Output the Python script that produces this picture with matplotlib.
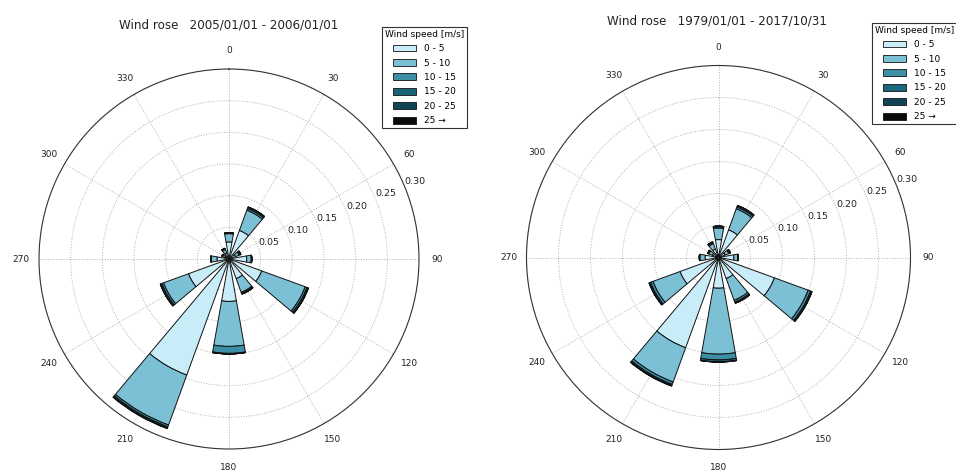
import numpy as np
import matplotlib
matplotlib.use('Agg')
import matplotlib.pyplot as plt
from matplotlib.patches import Patch

# direction sectors (deg, from north, clockwise)
directions = [0, 30, 60, 90, 120, 150, 180, 210, 240, 270, 300, 330]
speed_bins = ['0 - 5', '5 - 10', '10 - 15', '15 - 20', '20 - 25', '25 \u2192']
colors = ['#c9edf8', '#7cc0d5', '#3c8fa5', '#1b657a', '#0f4556', '#0b0b0b']

# frequency per speed bin, 2005/01/01 - 2006/01/01
a_0_5 = [0.027, 0.048, 0.011, 0.028, 0.055, 0.033, 0.067, 0.195, 0.068, 0.019, 0.007, 0.010]
a_5_10 = [0.013, 0.034, 0.006, 0.007, 0.073, 0.023, 0.071, 0.084, 0.042, 0.009, 0.004, 0.006]
a_10_15 = [0.001, 0.003, 0.002, 0.001, 0.003, 0.002, 0.011, 0.003, 0.003, 0.001, 0.001, 0.002]
a_15_20 = [0.0005, 0.002, 0.001, 0.0, 0.002, 0.001, 0.001, 0.002, 0.002, 0.0, 0.0, 0.0]
a_20_25 = [0.0, 0.0005, 0.0, 0.0, 0.0005, 0.0, 0.0, 0.0005, 0.0005, 0.0, 0.0, 0.0]
a_25 = [0.0, 0.0, 0.0, 0.0, 0.0, 0.0, 0.0, 0.0005, 0.0, 0.0, 0.0, 0.0]

# frequency per speed bin, 1979/01/01 - 2017/10/31
b_0_5 = [0.028, 0.046, 0.011, 0.024, 0.093, 0.035, 0.048, 0.150, 0.064, 0.021, 0.010, 0.014]
b_5_10 = [0.018, 0.035, 0.006, 0.006, 0.056, 0.036, 0.103, 0.057, 0.045, 0.008, 0.006, 0.009]
b_10_15 = [0.002, 0.003, 0.002, 0.001, 0.004, 0.003, 0.009, 0.004, 0.004, 0.001, 0.002, 0.002]
b_15_20 = [0.001, 0.002, 0.001, 0.0, 0.002, 0.002, 0.003, 0.002, 0.002, 0.0, 0.0, 0.001]
b_20_25 = [0.0, 0.0005, 0.0, 0.0, 0.0005, 0.0, 0.0005, 0.0005, 0.0005, 0.0, 0.0, 0.0]
b_25 = [0.0, 0.0, 0.0, 0.0, 0.0, 0.0, 0.0, 0.0005, 0.0, 0.0, 0.0, 0.0]

title_a = 'Wind rose   2005/01/01 - 2006/01/01'
title_b = 'Wind rose   1979/01/01 - 2017/10/31'
r_ticks = [0.05, 0.10, 0.15, 0.20, 0.25, 0.30]

fig = plt.figure(figsize=(9.56, 4.71), dpi=100)


def windrose(rect, series, title, title_xy, leg_xy):
    ax = fig.add_axes(rect, projection='polar')
    ax.set_theta_zero_location('N')
    ax.set_theta_direction(-1)
    theta = np.radians(directions)
    bottom = np.zeros(len(directions))
    for vals, c in zip(series, colors):
        vals = np.array(vals)
        ax.bar(theta, vals, width=np.radians(20), bottom=bottom, color=c,
               edgecolor='#111111', linewidth=0.7, zorder=3)
        bottom = bottom + vals
    ax.set_ylim(0, 0.30)
    ax.set_yticks(r_ticks)
    ax.set_yticklabels(['%.2f' % v for v in r_ticks], fontsize=6.8, color='#222222')
    ax.set_rlabel_position(67.5)
    ax.set_xticks(np.radians(np.arange(0, 360, 30)))
    ax.set_xticklabels([str(d) for d in range(0, 360, 30)], fontsize=6.5, color='#222222')
    ax.tick_params(axis='x', pad=2.5)
    ax.grid(True, linestyle=':', color='#b0b0b0', linewidth=0.7)
    ax.spines['polar'].set_color('#333333')
    ax.spines['polar'].set_linewidth(0.8)
    fig.text(title_xy[0], title_xy[1], title, ha='center', va='center', fontsize=8.6, color='#222222')
    handles = [Patch(facecolor=c, edgecolor='#111111', linewidth=0.6) for c in colors]
    leg = ax.legend(handles, speed_bins, title='Wind speed [m/s]', loc='upper left',
                    bbox_to_anchor=leg_xy, bbox_transform=fig.transFigure,
                    fontsize=6.5, title_fontsize=6.5, fancybox=False, framealpha=1,
                    edgecolor='#333333', handlelength=2.6, handleheight=0.8,
                    labelspacing=0.6, borderpad=0.3, borderaxespad=0)
    leg.get_frame().set_linewidth(0.8)
    return ax


windrose([39 / 956, 22 / 471, 380 / 956, 380 / 471],
         [a_0_5, a_5_10, a_10_15, a_15_20, a_20_25, a_25],
         title_a, (229 / 956, 1 - 25 / 471), (382 / 956, 1 - 27 / 471))
windrose([526.5 / 956, 21.5 / 471, 384 / 956, 384 / 471],
         [b_0_5, b_5_10, b_10_15, b_15_20, b_20_25, b_25],
         title_b, (717 / 956, 1 - 21 / 471), (872 / 956, 1 - 23 / 471))

plt.savefig('out.png', dpi=100)
